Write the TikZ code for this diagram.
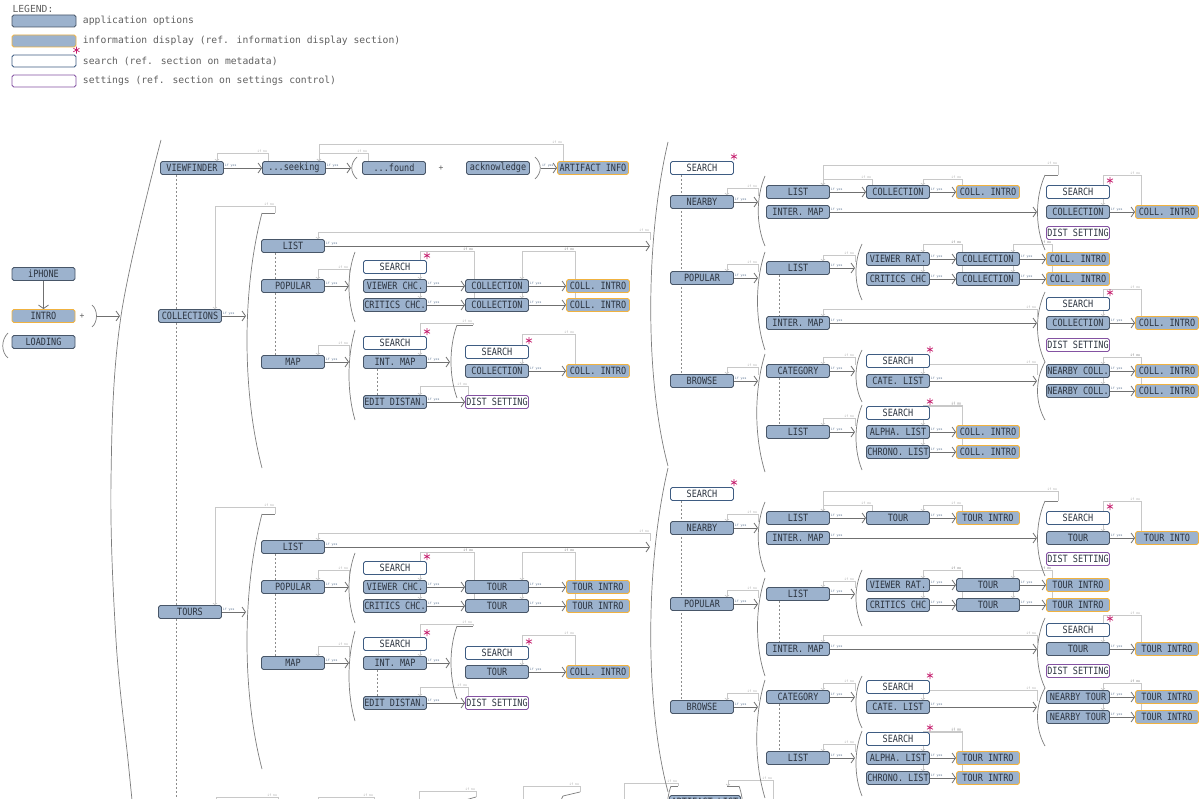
\documentclass[tikz,border=0pt]{standalone}
\usepackage{fontspec}
\usetikzlibrary{arrows.meta,positioning}
\newfontfamily\boxfont{DejaVu Sans Mono}[FakeStretch=0.85]
\newfontfamily\legfont{DejaVu Sans Mono}

\definecolor{optfill}{RGB}{156,178,205}
\definecolor{optline}{RGB}{72,86,104}
\definecolor{infoline}{RGB}{240,178,64}
\definecolor{srchline}{RGB}{62,92,130}
\definecolor{settline}{RGB}{132,82,162}
\definecolor{boxtxt}{RGB}{44,52,64}
\definecolor{legtxt}{RGB}{95,95,95}
\definecolor{yescol}{RGB}{112,112,112}
\definecolor{nocol}{RGB}{200,200,200}
\definecolor{yestxt}{RGB}{96,120,150}
\definecolor{notxt}{RGB}{170,170,170}
\definecolor{brkcol}{RGB}{125,125,125}
\definecolor{dotcol}{RGB}{140,140,140}
\definecolor{starcol}{RGB}{196,28,108}

\pgfdeclarelayer{bg}
\pgfsetlayers{bg,main}

\tikzset{
  optbox/.style={draw=optline, fill=optfill, rounded corners=1.8pt, line width=0.9pt,
    minimum width=63pt, minimum height=13pt, inner sep=0pt, text=boxtxt,
    font=\boxfont\fontsize{10}{11}\selectfont},
  infobox/.style={optbox, draw=infoline},
  srchbox/.style={optbox, draw=srchline, fill=white},
  settbox/.style={optbox, draw=settline, fill=white},
  legtext/.style={font=\legfont\fontsize{9.7}{11}\selectfont, text=legtxt},
  plus/.style={font=\legfont\fontsize{8}{9}\selectfont, text=legtxt},
  yesline/.style={draw=yescol, line width=0.8pt, -{Straight Barb[length=3.5pt,width=10pt]}},
  noline/.style={draw=nocol, line width=0.7pt, -{Straight Barb[length=1.5pt,width=4pt]}},
  yeslabel/.style={anchor=south west, inner sep=0.6pt, font=\legfont\fontsize{3.2}{3.5}\selectfont, text=yestxt},
  nolabel/.style={anchor=south east, inner sep=0.6pt, font=\legfont\fontsize{3.2}{3.5}\selectfont, text=notxt},
  brkline/.style={draw=brkcol, line width=0.7pt},
  dotline/.style={draw=dotcol, line width=0.6pt, dash pattern=on 2pt off 2pt},
  starline/.style={draw=starcol, line width=0.7pt},
}

% if yes: node -> node or bracket
\newcommand\yes[2]{\begin{pgfonlayer}{bg}\draw[yesline] (#1.east) -- (#2) node[pos=0,yeslabel]{if yes};\end{pgfonlayer}}
% if no: loop back from #2 to the top of #1
\newcommand\nope[3]{\begin{pgfonlayer}{bg}\draw[noline] (#2) |- ([xshift=-7pt,yshift=#3]#1.north east)
  node[pos=.5,nolabel]{if no} -- ([xshift=-7pt]#1.north east);\end{pgfonlayer}}
% dotted spine behind the boxes
\newcommand\spine[2]{\begin{pgfonlayer}{bg}\draw[dotline] (#1) -- (#2);\end{pgfonlayer}}
% bracket: x, top, bottom, bulge
\newcommand\brk[4]{\draw[brkline] (#1,#2) .. controls ({#1-(#4)},{(#2)+((#3)-(#2))*0.3})
  and ({#1-(#4)},{(#3)-((#3)-(#2))*0.3}) .. (#1,#3);}
% metadata mark
\newcommand\srchstar[1]{\draw[starline] ([yshift=4.5pt]#1.north east) +(90:3.5pt) -- +(270:3.5pt)
  +(30:3.5pt) -- +(210:3.5pt) +(150:3.5pt) -- +(330:3.5pt);}

\begin{document}
\begin{tikzpicture}[x=1pt, y=-1pt]
  \useasboundingbox (0,0) rectangle (1200,799);

  % legend
  \node[legtext, anchor=west] (legt) at (9,9) {LEGEND:};
  \node[optbox, minimum width=64pt, minimum height=12pt] (lg1) at (44,21) {};
  \node[infobox, minimum width=64pt, minimum height=12pt] (lg2) at (44,41) {};
  \node[srchbox, minimum width=64pt, minimum height=12pt] (lg3) at (44,61) {};
  \node[settbox, minimum width=64pt, minimum height=12pt] (lg4) at (44,81) {};
  \srchstar{lg3}
  \node[legtext, right=3pt of lg1] (lt1) {application options};
  \node[legtext, right=3pt of lg2] (lt2) {information display (ref. information display section)};
  \node[legtext, right=3pt of lg3] (lt3) {search (ref. section on metadata)};
  \node[legtext, right=3pt of lg4] (lt4) {settings (ref. section on settings control)};

  % start
  \node[optbox] (iphone) at (43.5,274) {iPHONE};
  \node[infobox] (intro) at (43.5,316) {INTRO};
  \node[optbox] (loading) at (43.5,342) {LOADING};
  \node[plus] (plus1) at (82,316) {+};
  \coordinate (introb) at (97,316);
  \coordinate (bigb) at (120,316);
  \draw[yesline] (iphone) -- (intro);
  \draw[brkline] (92,305) .. controls (98,310) and (98,322) .. (92,327);
  \draw[yesline] (introb) -- (bigb);
  \draw[brkline] (8,333) .. controls (1,340) and (1,352) .. (8,358);
  \draw[brkline] plot[smooth, tension=0.6] coordinates {(161,140) (121,316) (111,480) (116,640) (128,760) (133,810)};

  % viewfinder row
  \node[optbox] (vf) at (192,168) {VIEWFINDER};
  \node[optbox] (seek) at (294,168) {...seeking};
  \node[optbox] (found) at (394,168) {...found};
  \node[plus] (plus2) at (441,168) {+};
  \node[optbox] (ack) at (498,168) {acknowledge};
  \node[infobox, minimum width=71pt] (art) at (593,168) {ARTIFACT INFO};
  \coordinate (foundb) at (351,168);
  \coordinate (ackb) at (541,168);
  \coordinate (vfend) at (176,815);
  \brk{357}{157}{179}{7}
  \brk{535}{157}{179}{-7}
  \yes{vf}{seek.west}
  \yes{seek}{foundb}
  \yes{ackb}{art.west}
  \nope{vf}{[xshift=6pt]seek.north west}{8pt}
  \nope{seek}{[xshift=6pt]found.north west}{8pt}
  \nope{seek}{[xshift=6pt]art.north west}{17pt}
  \spine{[xshift=-16pt]vf.south}{vfend}

  % collections and tours
  \node[optbox] (coll) at (190,316) {COLLECTIONS};
  \node[optbox] (tours) at (190,612) {TOURS};
  \coordinate (collb) at (246,316);
  \coordinate (toursb) at (246,612);

  \foreach \blk/\dl/\dr/\itm/\intr/\mint/\nint/\near in {c/0/0/COLLECTION/COLL. INTRO/COLL. INTRO/COLL. INTRO/NEARBY COLL.,
      t/301/326/TOUR/TOUR INTRO/COLL. INTRO/TOUR INTO/NEARBY TOUR}{
    % left part
    \node[optbox] (\blk List) at (293,246+\dl) {LIST};
    \node[optbox] (\blk Pop) at (293,286+\dl) {POPULAR};
    \node[optbox] (\blk Map) at (293,362+\dl) {MAP};
    \node[srchbox] (\blk PopS) at (395,267+\dl) {SEARCH};
    \node[optbox] (\blk Vw) at (395,286+\dl) {VIEWER CHC.};
    \node[optbox] (\blk Cr) at (395,305+\dl) {CRITICS CHC.};
    \node[optbox] (\blk VwI) at (497,286+\dl) {\itm};
    \node[optbox] (\blk CrI) at (497,305+\dl) {\itm};
    \node[infobox] (\blk VwX) at (598,286+\dl) {\intr};
    \node[infobox] (\blk CrX) at (598,305+\dl) {\intr};
    \node[srchbox] (\blk MapS) at (395,343+\dl) {SEARCH};
    \node[optbox] (\blk IMap) at (395,362+\dl) {INT. MAP};
    \node[optbox] (\blk Ed) at (395,402+\dl) {EDIT DISTAN.};
    \node[srchbox] (\blk IMapS) at (497,352+\dl) {SEARCH};
    \node[optbox] (\blk IMapI) at (497,371+\dl) {\itm};
    \node[infobox] (\blk IMapX) at (598,371+\dl) {\mint};
    \node[settbox] (\blk Dist) at (497,402+\dl) {DIST SETTING};
    \coordinate (\blk Subt) at (275,213+\dl);
    \coordinate (\blk Popb) at (349,286+\dl);
    \coordinate (\blk Mapb) at (349,362+\dl);
    \coordinate (\blk IMapb) at (450,362+\dl);
    \coordinate (\blk IMapt) at (473,325+\dl);
    \coordinate (\blk Rb) at (650,246+\dl);

    \brk{262}{213+\dl}{468+\dl}{20}
    \draw[brkline] (262,213+\dl) -- (\blk Subt);
    \brk{355}{252+\dl}{322+\dl}{8}
    \brk{355}{330+\dl}{420+\dl}{8}
    \brk{457}{325+\dl}{398+\dl}{8}
    \draw[brkline] (457,325+\dl) -- (\blk IMapt);
    \spine{[xshift=-18pt]\blk List.south}{[xshift=-18pt]\blk Map.north}
    \spine{[xshift=-18pt]\blk IMap.south}{[xshift=-18pt]\blk Ed.north}

    \yes{\blk List}{\blk Rb}
    \yes{\blk Pop}{\blk Popb}
    \yes{\blk Map}{\blk Mapb}
    \yes{\blk Vw}{\blk VwI.west}
    \yes{\blk Cr}{\blk CrI.west}
    \yes{\blk VwI}{\blk VwX.west}
    \yes{\blk CrI}{\blk CrX.west}
    \yes{\blk IMap}{\blk IMapb}
    \yes{\blk IMapI}{\blk IMapX.west}
    \yes{\blk Ed}{\blk Dist.west}
    \nope{\blk List}{[yshift=6pt]\blk Rb}{7pt}
    \nope{\blk Pop}{[yshift=6pt]\blk Popb}{10pt}
    \nope{\blk Vw}{[xshift=9pt]\blk VwI.north west}{28pt}
    \nope{\blk Cr}{[xshift=9pt]\blk CrI.north west}{47pt}
    \nope{\blk VwI}{[xshift=9pt]\blk VwX.north west}{28pt}
    \nope{\blk CrI}{[xshift=9pt]\blk CrX.north west}{47pt}
    \nope{\blk Map}{[yshift=6pt]\blk Mapb}{10pt}
    \nope{\blk IMap}{\blk IMapt}{32pt}
    \nope{\blk IMapI}{[xshift=9pt]\blk IMapX.north west}{30pt}
    \nope{\blk Ed}{[xshift=3pt]\blk Dist.north west}{9pt}
    \srchstar{\blk PopS}
    \srchstar{\blk MapS}
    \srchstar{\blk IMapS}

    % right part
    \node[srchbox] (\blk S) at (702,168+\dr) {SEARCH};
    \node[optbox] (\blk N) at (702,202+\dr) {NEARBY};
    \node[optbox] (\blk P) at (702,278+\dr) {POPULAR};
    \node[optbox] (\blk B) at (702,381+\dr) {BROWSE};
    \node[optbox] (\blk NL) at (798,192+\dr) {LIST};
    \node[optbox] (\blk NM) at (798,212+\dr) {INTER. MAP};
    \node[optbox] (\blk NLi) at (898,192+\dr) {\itm};
    \node[infobox] (\blk NLx) at (988,192+\dr) {\intr};
    \node[srchbox] (\blk NMs) at (1078,192+\dr) {SEARCH};
    \node[optbox] (\blk NMi) at (1078,212+\dr) {\itm};
    \node[settbox] (\blk NMd) at (1078,233+\dr) {DIST SETTING};
    \node[infobox] (\blk NMx) at (1167,212+\dr) {\nint};
    \node[optbox] (\blk PL) at (798,268+\dr) {LIST};
    \node[optbox] (\blk PM) at (798,323+\dr) {INTER. MAP};
    \node[optbox] (\blk PV) at (898,259+\dr) {VIEWER RAT.};
    \node[optbox] (\blk PC) at (898,279+\dr) {CRITICS CHC};
    \node[optbox] (\blk PVi) at (988,259+\dr) {\itm};
    \node[optbox] (\blk PCi) at (988,279+\dr) {\itm};
    \node[infobox] (\blk PVx) at (1078,259+\dr) {\intr};
    \node[infobox] (\blk PCx) at (1078,279+\dr) {\intr};
    \node[srchbox] (\blk PMs) at (1078,304+\dr) {SEARCH};
    \node[optbox] (\blk PMi) at (1078,323+\dr) {\itm};
    \node[settbox] (\blk PMd) at (1078,345+\dr) {DIST SETTING};
    \node[infobox] (\blk PMx) at (1167,323+\dr) {\intr};
    \node[optbox] (\blk BC) at (798,371+\dr) {CATEGORY};
    \node[optbox] (\blk BL) at (798,432+\dr) {LIST};
    \node[srchbox] (\blk BCs) at (898,361+\dr) {SEARCH};
    \node[optbox] (\blk BCl) at (898,381+\dr) {CATE. LIST};
    \node[optbox] (\blk BN1) at (1078,371+\dr) {\near};
    \node[optbox] (\blk BN2) at (1078,391+\dr) {\near};
    \node[infobox] (\blk BX1) at (1167,371+\dr) {\intr};
    \node[infobox] (\blk BX2) at (1167,391+\dr) {\intr};
    \node[srchbox] (\blk BLs) at (898,413+\dr) {SEARCH};
    \node[optbox] (\blk BA) at (898,432+\dr) {ALPHA. LIST};
    \node[optbox] (\blk BH) at (898,452+\dr) {CHRONO. LIST};
    \node[infobox] (\blk BAx) at (988,432+\dr) {\intr};
    \node[infobox] (\blk BHx) at (988,452+\dr) {\intr};
    \coordinate (\blk Nb) at (758,202+\dr);
    \coordinate (\blk NMb) at (1037,212+\dr);
    \coordinate (\blk NMt) at (1058,175+\dr);
    \coordinate (\blk Pb) at (758,278+\dr);
    \coordinate (\blk PLb) at (855,268+\dr);
    \coordinate (\blk PMb) at (1037,323+\dr);
    \coordinate (\blk Bb) at (758,381+\dr);
    \coordinate (\blk BCb) at (855,371+\dr);
    \coordinate (\blk BNb) at (1037,381+\dr);
    \coordinate (\blk BLb) at (855,432+\dr);

    \draw[brkline] (668,142+\dr) .. controls (645,240+\dr) and (645,380+\dr) .. (668,466+\dr);
    \brk{765}{176+\dr}{246+\dr}{9}
    \brk{1045}{175+\dr}{250+\dr}{10}
    \draw[brkline] (1045,175+\dr) -- (\blk NMt);
    \brk{765}{252+\dr}{350+\dr}{10}
    \brk{862}{244+\dr}{300+\dr}{8}
    \brk{1045}{292+\dr}{362+\dr}{10}
    \brk{765}{354+\dr}{472+\dr}{11}
    \brk{862}{350+\dr}{402+\dr}{8}
    \brk{1045}{362+\dr}{420+\dr}{10}
    \brk{862}{405+\dr}{470+\dr}{8}
    \spine{[xshift=-21pt]\blk S.south}{[xshift=-21pt]\blk B.north}
    \spine{[xshift=-19pt]\blk PL.south}{[xshift=-19pt]\blk PM.north}
    \spine{[xshift=-19pt]\blk BC.south}{[xshift=-19pt]\blk BL.north}

    \yes{\blk N}{\blk Nb}
    \yes{\blk P}{\blk Pb}
    \yes{\blk B}{\blk Bb}
    \yes{\blk NL}{\blk NLi.west}
    \yes{\blk NLi}{\blk NLx.west}
    \yes{\blk NM}{\blk NMb}
    \yes{\blk NMi}{\blk NMx.west}
    \yes{\blk PL}{\blk PLb}
    \yes{\blk PV}{\blk PVi.west}
    \yes{\blk PC}{\blk PCi.west}
    \yes{\blk PVi}{\blk PVx.west}
    \yes{\blk PCi}{\blk PCx.west}
    \yes{\blk PM}{\blk PMb}
    \yes{\blk PMi}{\blk PMx.west}
    \yes{\blk BC}{\blk BCb}
    \yes{\blk BCl}{\blk BNb}
    \yes{\blk BN1}{\blk BX1.west}
    \yes{\blk BN2}{\blk BX2.west}
    \yes{\blk BL}{\blk BLb}
    \yes{\blk BA}{\blk BAx.west}
    \yes{\blk BH}{\blk BHx.west}
    \nope{\blk N}{[yshift=6pt]\blk Nb}{7pt}
    \nope{\blk NL}{[xshift=6pt]\blk NLi.north west}{6pt}
    \nope{\blk NLi}{[xshift=6pt]\blk NLx.north west}{6pt}
    \nope{\blk NL}{\blk NMt}{20pt}
    \nope{\blk NMi}{[xshift=6pt]\blk NMx.north west}{30pt}
    \nope{\blk P}{[yshift=6pt]\blk Pb}{7pt}
    \nope{\blk PL}{[yshift=6pt]\blk PLb}{6pt}
    \nope{\blk PV}{[xshift=6pt]\blk PVi.north west}{8pt}
    \nope{\blk PC}{[xshift=6pt]\blk PCi.north west}{28pt}
    \nope{\blk PVi}{[xshift=6pt]\blk PVx.north west}{8pt}
    \nope{\blk PCi}{[xshift=6pt]\blk PCx.north west}{28pt}
    \nope{\blk PM}{[yshift=6pt]\blk PMb}{7pt}
    \nope{\blk PMi}{[xshift=6pt]\blk PMx.north west}{27pt}
    \nope{\blk B}{[yshift=6pt]\blk Bb}{7pt}
    \nope{\blk BC}{[yshift=6pt]\blk BCb}{7pt}
    \nope{\blk BCl}{[yshift=6pt]\blk BNb}{10pt}
    \nope{\blk BN1}{[xshift=6pt]\blk BX1.north west}{7pt}
    \nope{\blk BN2}{[xshift=6pt]\blk BX2.north west}{27pt}
    \nope{\blk BL}{[yshift=6pt]\blk BLb}{7pt}
    \nope{\blk BA}{[xshift=6pt]\blk BAx.north west}{20pt}
    \nope{\blk BH}{[xshift=6pt]\blk BHx.north west}{39pt}
    \srchstar{\blk S}
    \srchstar{\blk NMs}
    \srchstar{\blk PMs}
    \srchstar{\blk BCs}
    \srchstar{\blk BLs}
  }

  \yes{coll}{collb}
  \yes{tours}{toursb}
  \nope{coll}{cSubt}{103pt}
  \nope{tours}{tSubt}{98pt}

  % next row, cut off
  \node[optbox, minimum width=71pt] (artlist) at (705,802) {ARTIFACT LIST};
  \coordinate (bt1) at (278,803); \coordinate (bs1) at (223,805);
  \coordinate (bt2) at (374,803); \coordinate (bs2) at (325,805);
  \coordinate (bt3) at (476,797); \coordinate (bs3) at (426,805);
  \coordinate (bt4) at (580,792); \coordinate (bs4) at (530,805);
  \coordinate (bt5) at (678,786); \coordinate (bs5) at (631,805);
  \coordinate (bt6) at (773,805); \coordinate (bs6) at (735,786);
  \nope{bs1}{bt1}{8pt}
  \nope{bs2}{bt2}{8pt}
  \nope{bs3}{bt3}{14pt}
  \nope{bs4}{bt4}{19pt}
  \nope{bs5}{bt5}{22pt}
  \nope{bs6}{bt6}{6pt}
  \draw[brkline] (458,802) -- (bt3);
  \brk{458}{802}{830}{6}
  \draw[brkline] (563,796) -- (bt4);
  \brk{563}{796}{830}{6}
  \brk{671}{786}{830}{5}
  \draw[brkline] (671,786) -- (bt5);
  \brk{739}{786}{830}{-5}
  \draw[brkline] (727,786) -- (739,786);
\end{tikzpicture}
\end{document}
